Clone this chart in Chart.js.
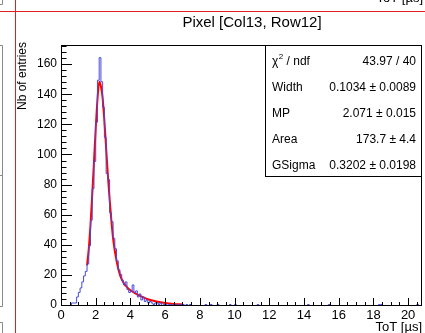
<!DOCTYPE html>
<html><head><meta charset="utf-8">
<script src="https://cdn.jsdelivr.net/npm/chart.js@4"></script>
<style>html,body{margin:0;padding:0;background:#fff;}canvas{display:block;}</style>
</head><body>
<canvas id="c" width="425" height="333"></canvas>
<script>
// ---- data ----
const binWidth = 0.1;      // ToT bin width [µs]
const xMax = 20.8;         // upper edge of histogram axis
const counts = [
  0,0,0,0,0,0,2,2,2,6,
  9,12,16,20,23,28,40,57,78,96,
  122,150,165,149,132,112,88,84,62,56,
  45,38,30,24,21,17,14,16,11,9,
  10,14,9,10,6,8,4,6,3,4,
  2,3,2,1,2,2,1,2,0,1,
  1,0,1,1,0,1,0,1,0,1,
  1,0,1,0,1,0,0,0,0,0,
  0,0,0,1,0,0,1,0,0,0,
  1,0,0,0,0,0,0,1,0,0,
  1,0,0,0,0,0,0,0,0,0,
  0,0,0,1,0,0,0,0,0,0,
  0,0,0,0,0,0,0,0,0,0,
  0,0,0,0,0,0,0,0,0,0,
  0,0,1,0,0,0,0,0,0,0,
  0,0,0,0,1,0,0,0,0,0,
  0,0,0,0,0,0,0,0,0,0,
  0,0,0,0,0,0,0,0,0,0,
  0,0,0,1,1,0,0,0,0,0,
  0,0,0,0,0,0,0,0,0,0,
  0,0,0,0,0,1,0,0
];
const fitX = [1.5,1.6,1.7,1.8,1.9,2.0,2.1,2.2,2.3,2.4,2.5,2.6,2.7,2.8,2.9,3.0,3.2,3.4,3.6,3.8,4.0,4.5,5.0,5.5,6.0,6.5,7.0];
const fitY = [27,38,54,74,96,118,137,149,146,138,123,105,87,71,57,45,30,20.5,15.5,12.5,10.5,7,4.5,3,2,1.4,1.0];
const xTickLabels = ['0','2','4','6','8','10','12','14','16','18','20'];
const yTickLabels = ['0','20','40','60','80','100','120','140','160'];
const statsNames = ['χ2 / ndf','Width','MP','Area','GSigma'];
const statsValues = ['43.97 / 40','0.1034 ± 0.0089','2.071 ± 0.015','173.7 ± 4.4','0.3202 ± 0.0198'];
const title = 'Pixel [Col13, Row12]';
const xTitle = 'ToT [µs]';
const yTitle = 'Nb of entries';

// ---- build datasets ----
const histPts = counts.map((c, i) => ({x: i * binWidth, y: c}));
histPts.push({x: counts.length * binWidth, y: counts[counts.length - 1]});
const fitPts = fitX.map((x, i) => ({x, y: fitY[i]}));

const FONT = '"Liberation Sans", Arial, Helvetica, sans-serif';

const rootPlugin = {
  id: 'rootStyle',
  beforeDraw(chart) {
    const ctx = chart.ctx;
    ctx.save();
    ctx.fillStyle = '#fff';
    ctx.fillRect(0, 0, chart.width, chart.height);
    ctx.restore();
  },
  afterDraw(chart) {
    const {ctx, chartArea: a, scales} = chart;
    const xs = scales.x, ys = scales.y;
    ctx.save();
    // frame
    ctx.strokeStyle = '#000';
    ctx.lineWidth = 1;
    ctx.strokeRect(a.left + 0.5, a.top + 0.5, a.right - a.left - 1, a.bottom - a.top - 1);
    // y ticks
    ctx.beginPath();
    for (let k = 0; k * 4 <= ys.max; k++) {
      const v = k * 4;
      const py = Math.round(ys.getPixelForValue(v)) - 0.5;
      const len = (k % 5 === 0) ? 11 : 5.5;
      ctx.moveTo(a.left, py); ctx.lineTo(a.left + len, py);
    }
    // x ticks
    for (let k = 0; k * 0.5 <= xs.max; k++) {
      const v = k * 0.5;
      const px = Math.round(xs.getPixelForValue(v)) + 0.5;
      const len = (k % 4 === 0) ? 8 : 4;
      ctx.moveTo(px, a.bottom); ctx.lineTo(px, a.bottom - len);
    }
    ctx.stroke();
    // tick labels
    ctx.fillStyle = '#000';
    ctx.font = '12px ' + FONT;
    ctx.textAlign = 'right'; ctx.textBaseline = 'middle';
    yTickLabels.forEach(t => {
      ctx.fillText(t, a.left - 4, ys.getPixelForValue(parseFloat(t)) - 1);
    });
    ctx.font = '13px ' + FONT;
    ctx.textAlign = 'center'; ctx.textBaseline = 'middle';
    xTickLabels.forEach(t => {
      ctx.fillText(t, xs.getPixelForValue(parseFloat(t)), 315);
    });
    // axis titles
    ctx.font = '13px ' + FONT;
    ctx.textAlign = 'right'; ctx.textBaseline = 'middle';
    ctx.fillText(xTitle, a.right, 327);
    ctx.save();
    ctx.translate(23, 42);
    ctx.rotate(-Math.PI / 2);
    ctx.font = '12px ' + FONT;
    ctx.textAlign = 'right'; ctx.textBaseline = 'middle';
    ctx.fillText(yTitle, 0, 0);
    ctx.restore();
    // title
    ctx.font = '15px ' + FONT;
    ctx.textAlign = 'center'; ctx.textBaseline = 'middle';
    ctx.fillText(title, 252, 23);
    // stats box
    const bx = 265, by = a.top, bw = a.right - bx, bh = 132;
    ctx.fillStyle = '#fff';
    ctx.fillRect(bx, by, bw, bh);
    ctx.strokeStyle = '#000';
    ctx.strokeRect(bx + 0.5, by + 0.5, bw - 1, bh - 1);
    ctx.fillStyle = '#000';
    ctx.font = '12px ' + FONT;
    ctx.textBaseline = 'middle';
    statsNames.forEach((n, i) => {
      const ty = 62 + i * 26;
      ctx.textAlign = 'left';
      if (i === 0) {
        ctx.fillText('χ', 272, ty);
        let w = ctx.measureText('χ').width;
        ctx.font = '8px ' + FONT;
        ctx.fillText('2', 272 + w + 0.5, ty - 5);
        const w2 = ctx.measureText('2').width;
        ctx.font = '12px ' + FONT;
        ctx.fillText(' / ndf', 272 + w + w2 + 0.5, ty);
      } else {
        ctx.fillText(n, 272, ty);
      }
      ctx.textAlign = 'right';
      ctx.fillText(statsValues[i], 416, ty);
    });
    // neighbour pad remnants (grey)
    ctx.strokeStyle = '#8a8a8a';
    ctx.beginPath();
    ctx.moveTo(0, 4.5); ctx.lineTo(2.5, 4.5); ctx.lineTo(2.5, 0);
    ctx.moveTo(0, 45.5); ctx.lineTo(2.5, 45.5); ctx.lineTo(2.5, 306.5); ctx.lineTo(0, 306.5);
    ctx.moveTo(0, 175.5); ctx.lineTo(2.5, 175.5);
    ctx.moveTo(0, 322.5); ctx.lineTo(2.5, 322.5); ctx.lineTo(2.5, 333);
    ctx.stroke();
    // text of the pad above (cut)
    ctx.fillStyle = '#000';
    ctx.font = '13px ' + FONT;
    ctx.textAlign = 'right'; ctx.textBaseline = 'alphabetic';
    ctx.fillText(xTitle, 423, 2);
    // red pad borders
    ctx.strokeStyle = '#e02020';
    ctx.beginPath();
    ctx.moveTo(0, 11.5); ctx.lineTo(425, 11.5);
    ctx.moveTo(15.5, 0); ctx.lineTo(15.5, 333);
    ctx.stroke();
    ctx.restore();
  }
};

new Chart(document.getElementById('c'), {
  type: 'scatter',
  data: {
    datasets: [
      {
        data: histPts, showLine: true, stepped: 'before',
        borderColor: '#4848e0', borderWidth: 1, pointRadius: 0, fill: false
      },
      {
        data: fitPts, showLine: true, borderColor: '#ff0000', borderWidth: 2,
        pointRadius: 0, tension: 0.4, cubicInterpolationMode: 'monotone', fill: false
      }
    ]
  },
  options: {
    responsive: false, animation: false, devicePixelRatio: 1,
    layout: {padding: {left: 61, right: 3, top: 45, bottom: 27}},
    scales: {
      x: {type: 'linear', min: 0, max: xMax, display: false},
      y: {type: 'linear', min: 0, max: 173.4, display: false}
    },
    plugins: {legend: {display: false}, tooltip: {enabled: false}, title: {display: false}}
  },
  plugins: [rootPlugin]
});
</script>
</body></html>
